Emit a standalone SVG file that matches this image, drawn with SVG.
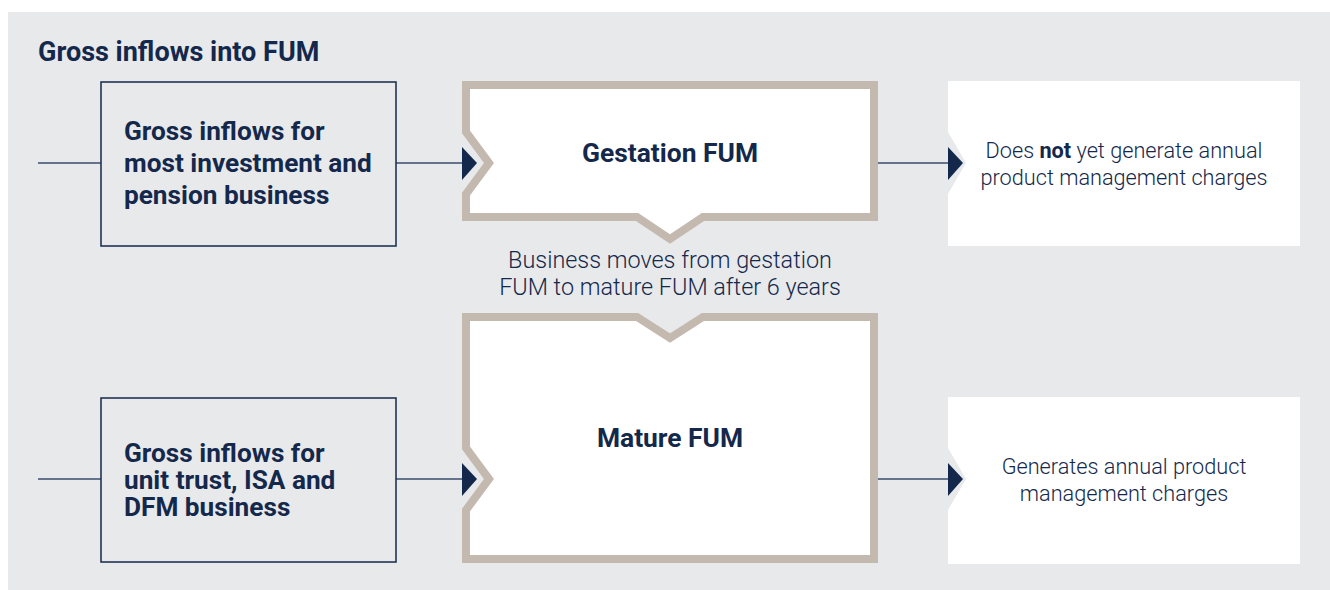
<svg xmlns="http://www.w3.org/2000/svg" width="1330" height="590" viewBox="0 0 1330 590">
<defs>
<style>
.bg{fill:#e8e9eb}
.inbox{fill:none;stroke:#14284b;stroke-width:1.5}
.fum{fill:#ffffff;stroke:#c4b9ae;stroke-width:8;stroke-linejoin:miter;stroke-miterlimit:10}
.out{fill:#ffffff}
.line{stroke:#3a4d6e;stroke-width:1.5;fill:none}
.arrow{fill:#14284b}
.b{font-family:Roboto,"Liberation Sans",sans-serif;font-weight:700;fill:#14284b}
.l{font-family:Roboto,"Liberation Sans",sans-serif;font-weight:300;fill:#14284b}
</style>
</defs>
<rect class="bg" x="8" y="12" width="1322" height="578"/>
<text class="b" x="38" y="61" font-size="27">Gross inflows into FUM</text>

<g id="connectors">
<line class="line" x1="38" y1="163" x2="101" y2="163"/>
<line class="line" x1="396" y1="163" x2="464" y2="163"/>
<line class="line" x1="38" y1="479" x2="101" y2="479"/>
<line class="line" x1="396" y1="479" x2="464" y2="479"/>
<line class="line" x1="874" y1="163" x2="950" y2="163"/>
<line class="line" x1="874" y1="479" x2="950" y2="479"/>
</g>

<g id="inflow-top">
<rect class="inbox" x="101" y="82" width="295" height="164"/>
<text class="b" font-size="26.2"><tspan x="124" y="140">Gross inflows for</tspan><tspan x="124" y="172">most investment and</tspan><tspan x="124" y="204">pension business</tspan></text>
</g>

<g id="inflow-bottom">
<rect class="inbox" x="101" y="398" width="295" height="164"/>
<text class="b" font-size="26.2"><tspan x="124" y="462">Gross inflows for</tspan><tspan x="124" y="489">unit trust, ISA and</tspan><tspan x="124" y="516">DFM business</tspan></text>
</g>

<g id="gestation">
<path class="fum" d="M466,85 H874 V217 H703 L670,239 L637,217 H466 V194 L489,163 L466,132 Z"/>
<polygon class="arrow" points="462,147 477,163 462,180"/>
<text class="b" font-size="26.4" x="670" y="162" text-anchor="middle">Gestation FUM</text>
</g>

<g id="mature">
<path class="fum" d="M466,317 H637 L670,338 L703,317 H874 V559 H466 V510 L489,479 L466,448 Z"/>
<polygon class="arrow" points="462,463 477,479 462,496"/>
<text class="b" font-size="26.4" x="670" y="447" text-anchor="middle">Mature FUM</text>
</g>

<text class="l" font-size="23.4" text-anchor="middle"><tspan x="670" y="268">Business moves from gestation</tspan><tspan x="670" y="295">FUM to mature FUM after 6 years</tspan></text>

<g id="out-top">
<path class="out" d="M948,81 H1300 V246 H948 V194 L966,163 L948,132 Z"/>
<polygon class="arrow" points="948,147 963,163 948,180"/>
<text class="l" font-size="21.7" text-anchor="middle"><tspan x="1124" y="158">Does <tspan font-weight="700">not</tspan> yet generate annual</tspan><tspan x="1124" y="185">product management charges</tspan></text>
</g>

<g id="out-bottom">
<path class="out" d="M948,397 H1300 V564 H948 V510 L966,479 L948,448 Z"/>
<polygon class="arrow" points="948,463 963,479 948,496"/>
<text class="l" font-size="21.7" text-anchor="middle"><tspan x="1124" y="474">Generates annual product</tspan><tspan x="1124" y="501">management charges</tspan></text>
</g>
</svg>
